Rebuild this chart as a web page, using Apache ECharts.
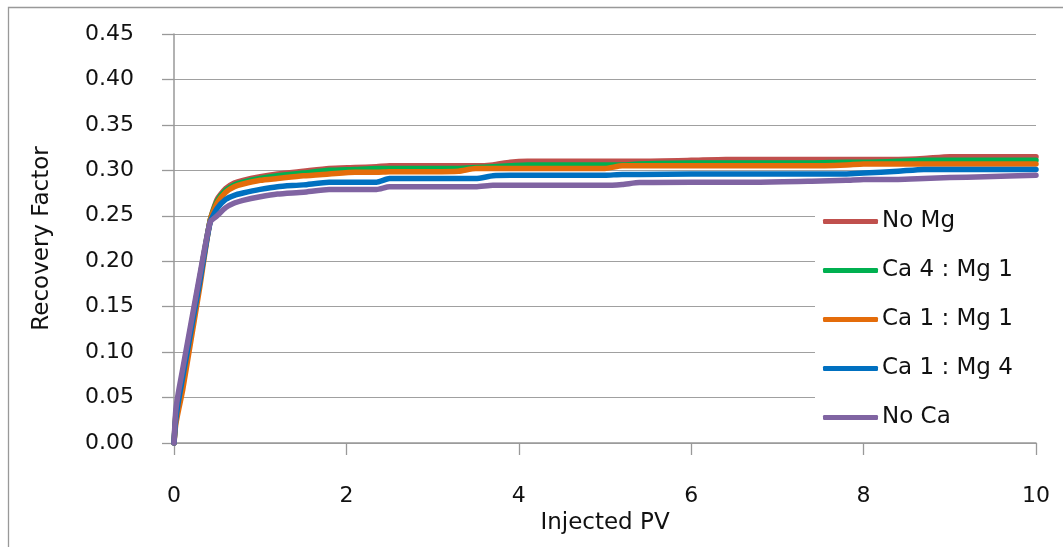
<!DOCTYPE html>
<html>
<head>
<meta charset="utf-8">
<script src="https://cdn.jsdelivr.net/npm/echarts@6/dist/echarts.min.js"></script>
<style>
html,body{margin:0;padding:0;background:#fff;}
#chart{width:1063px;height:547px;}
</style>
</head>
<body>
<div id="chart"></div>
<script>
const seriesNames = ['No Mg', 'Ca 4 : Mg 1', 'Ca 1 : Mg 1', 'Ca 1 : Mg 4', 'No Ca'];
const injectedPV = [0, 0.02, 0.05, 0.1, 0.2, 0.3, 0.42, 0.5, 0.6, 0.7, 0.8, 1.0, 1.2, 1.5, 1.8, 2.1, 2.35, 2.5, 3.0, 3.3, 3.5, 3.7, 3.9, 4.1, 4.5, 5.0, 5.2, 5.4, 6.0, 6.4, 6.8, 7.4, 7.8, 8.0, 8.4, 8.7, 9.0, 9.4, 10];
const noMg = [0, 0.03, 0.05, 0.076, 0.129, 0.182, 0.245, 0.268, 0.28, 0.286, 0.289, 0.293, 0.296, 0.299, 0.302, 0.303, 0.304, 0.305, 0.305, 0.305, 0.305, 0.306, 0.309, 0.310, 0.310, 0.310, 0.310, 0.310, 0.311, 0.312, 0.312, 0.312, 0.312, 0.312, 0.312, 0.313, 0.315, 0.315, 0.315];
const ca4mg1 = [0, 0.028, 0.048, 0.075, 0.128, 0.181, 0.245, 0.266, 0.278, 0.284, 0.287, 0.291, 0.294, 0.297, 0.300, 0.301, 0.302, 0.302, 0.302, 0.302, 0.303, 0.304, 0.305, 0.306, 0.306, 0.306, 0.306, 0.307, 0.308, 0.308, 0.308, 0.308, 0.309, 0.309, 0.310, 0.311, 0.311, 0.311, 0.311];
const ca1mg1 = [0, 0.02, 0.035, 0.058, 0.115, 0.172, 0.245, 0.264, 0.276, 0.282, 0.285, 0.289, 0.291, 0.294, 0.296, 0.298, 0.298, 0.2985, 0.2985, 0.299, 0.302, 0.302, 0.302, 0.302, 0.302, 0.302, 0.305, 0.305, 0.305, 0.305, 0.305, 0.305, 0.306, 0.307, 0.307, 0.307, 0.307, 0.307, 0.307];
const ca1mg4 = [0, 0.025, 0.045, 0.072, 0.125, 0.178, 0.243, 0.258, 0.268, 0.2725, 0.275, 0.279, 0.282, 0.284, 0.287, 0.287, 0.287, 0.291, 0.291, 0.291, 0.291, 0.294, 0.2945, 0.2945, 0.2945, 0.2945, 0.2955, 0.2955, 0.296, 0.296, 0.296, 0.296, 0.296, 0.297, 0.299, 0.301, 0.301, 0.301, 0.301];
const noCa = [0, 0.035, 0.055, 0.081, 0.133, 0.185, 0.243, 0.25, 0.259, 0.264, 0.267, 0.271, 0.274, 0.276, 0.279, 0.279, 0.279, 0.282, 0.282, 0.282, 0.282, 0.2835, 0.2835, 0.2835, 0.2835, 0.2835, 0.2845, 0.2865, 0.287, 0.287, 0.287, 0.288, 0.289, 0.290, 0.290, 0.291, 0.292, 0.293, 0.2945];
const seriesValues = [noMg, ca4mg1, ca1mg1, ca1mg4, noCa];
const colors = ['#C0504D', '#00B050', '#E46C0A', '#0070C0', '#8064A2'];

const FONT = 'DejaVu Sans';
const chart = echarts.init(document.getElementById('chart'), null, {renderer: 'canvas'});
const option = {
  backgroundColor: '#fff',
  animation: false,
  color: colors,
  textStyle: {fontFamily: FONT},
  graphic: [{
    type: 'rect', silent: true, z: -10,
    shape: {x: 8.5, y: 7.5, width: 1062, height: 546},
    style: {fill: 'none', stroke: '#999', lineWidth: 1.3}
  }],
  grid: {left: 174, right: 27, top: 34, bottom: 104, containLabel: false},
  legend: {
    orient: 'vertical',
    left: 815, top: 200,
    padding: [10, 40, 12, 8],
    backgroundColor: '#fff',
    itemWidth: 55, itemHeight: 5, itemGap: 26,
    icon: 'roundRect',
    textStyle: {fontFamily: FONT, fontSize: 23, color: '#111', padding: [0, 0, 0, -1]},
    data: seriesNames
  },
  xAxis: {
    type: 'value', min: 0, max: 10, interval: 2,
    name: 'Injected PV', nameLocation: 'middle', nameGap: 65,
    nameTextStyle: {fontFamily: FONT, fontSize: 23, color: '#111'},
    axisLine: {show: true, lineStyle: {color: '#999', width: 1.5}},
    axisTick: {show: true, length: 12, lineStyle: {color: '#999', width: 1.3}},
    axisLabel: {fontFamily: FONT, fontSize: 22, color: '#111', margin: 42},
    splitLine: {show: false}
  },
  yAxis: {
    type: 'value', min: 0, max: 0.45, interval: 0.05,
    name: 'Recovery Factor', nameLocation: 'middle', nameGap: 120, nameRotate: 90,
    nameTextStyle: {fontFamily: FONT, fontSize: 23, color: '#111'},
    axisLine: {show: true, lineStyle: {color: '#999', width: 1.5}},
    axisTick: {show: true, length: 12, lineStyle: {color: '#999', width: 1.3}},
    axisLabel: {fontFamily: FONT, fontSize: 22, color: '#111', margin: 40,
      formatter: v => v.toFixed(2)},
    splitLine: {show: true, lineStyle: {color: '#a0a0a0', width: 1.2}}
  },
  series: seriesNames.map((n, i) => ({
    name: n, type: 'line',
    data: injectedPV.map((x, j) => [x, seriesValues[i][j]]),
    showSymbol: false, symbol: 'none',
    smooth: 0.2,
    lineStyle: {width: 5.5, color: colors[i], cap: 'round', join: 'round'},
    itemStyle: {color: colors[i]},
    z: 2 + i
  }))
};
chart.setOption(option);
</script>
</body>
</html>
